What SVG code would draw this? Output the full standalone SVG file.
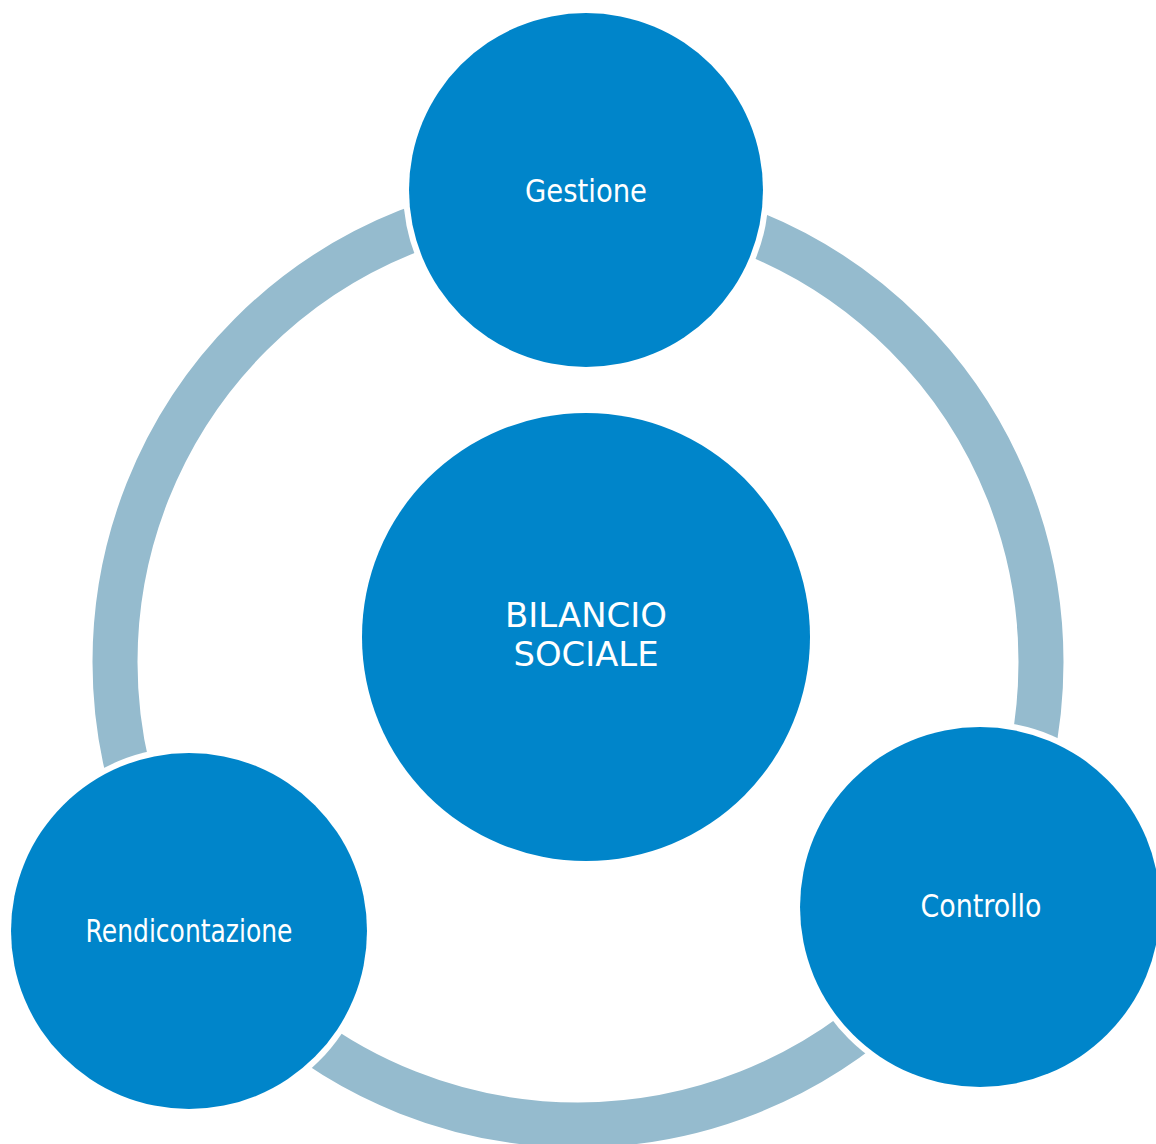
<svg xmlns="http://www.w3.org/2000/svg" width="1156" height="1144" viewBox="0 0 1156 1144">
<style>
.ring{fill:none;stroke:#95BBCE;stroke-width:45}
.halo{fill:#FFFFFF}
.node{fill:#0085CA}
.lbl{fill:#FFFFFF;font-family:"DejaVu Sans","Liberation Sans",sans-serif;font-size:32px;text-anchor:middle}
</style>
<rect width="1156" height="1144" fill="#FFFFFF"/>
<g id="connectors">
<circle class="ring" cx="578" cy="662" r="463"/>
</g>
<g id="gestione">
<circle class="halo" cx="586" cy="190" r="183"/>
<circle class="node" cx="586" cy="190" r="177"/>
<text class="lbl" x="586" y="202" textLength="122" lengthAdjust="spacingAndGlyphs">Gestione</text>
</g>
<g id="controllo">
<circle class="halo" cx="980" cy="907" r="186"/>
<circle class="node" cx="980" cy="907" r="180"/>
<text class="lbl" x="981" y="917" textLength="121" lengthAdjust="spacingAndGlyphs">Controllo</text>
</g>
<g id="rendicontazione">
<circle class="halo" cx="189" cy="931" r="184"/>
<circle class="node" cx="189" cy="931" r="178"/>
<text class="lbl" x="189" y="942" textLength="207" lengthAdjust="spacingAndGlyphs">Rendicontazione</text>
</g>
<g id="bilancio-sociale">
<circle class="node" cx="586" cy="637" r="224"/>
<text class="lbl" x="586" y="627" style="font-size:33px" textLength="162" lengthAdjust="spacingAndGlyphs">BILANCIO</text>
<text class="lbl" x="586" y="666" style="font-size:33px" textLength="145" lengthAdjust="spacingAndGlyphs">SOCIALE</text>
</g>
</svg>
